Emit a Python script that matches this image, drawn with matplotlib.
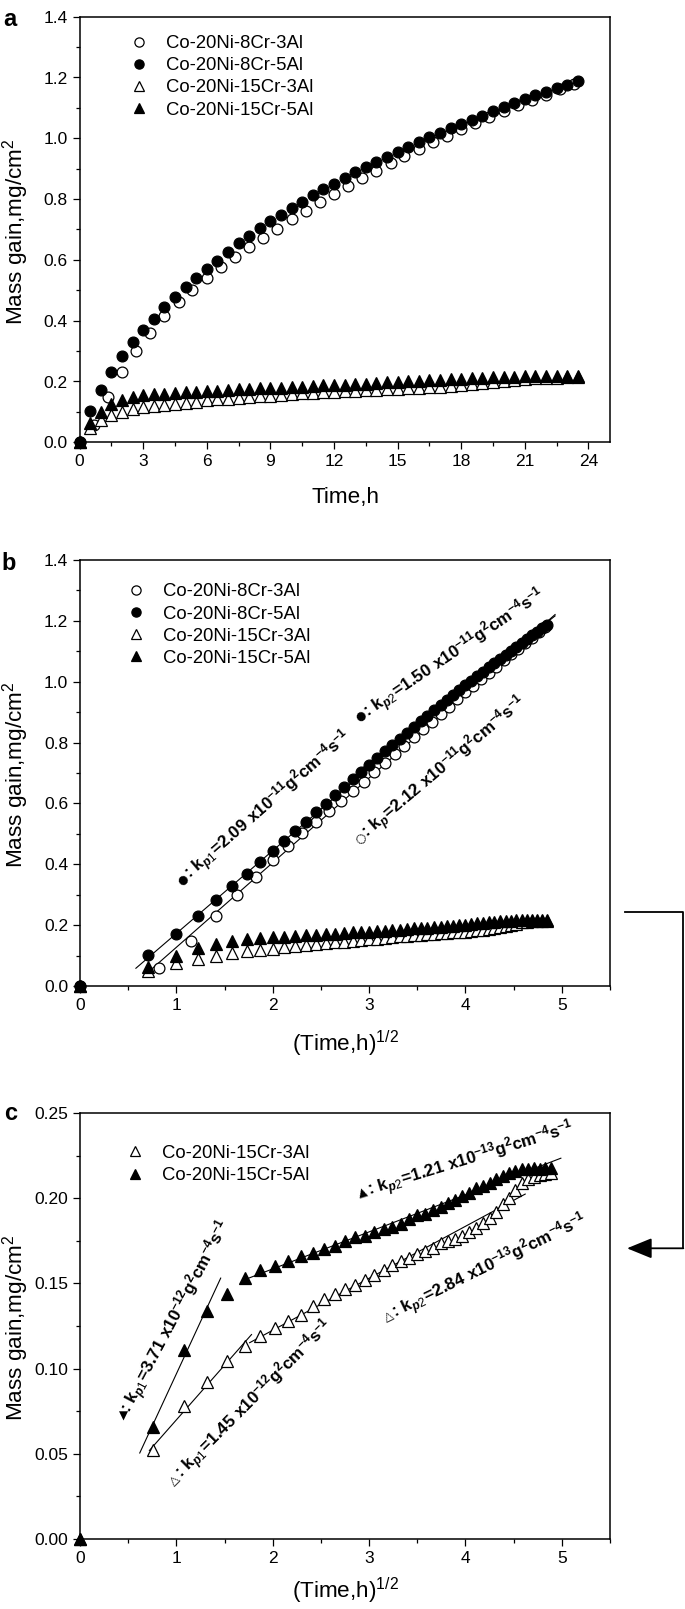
import numpy as np
import matplotlib
matplotlib.use("Agg")
import matplotlib.pyplot as plt
from matplotlib.lines import Line2D
from matplotlib.patches import FancyArrowPatch
from matplotlib.transforms import offset_copy
from matplotlib.ticker import MultipleLocator, FormatStrFormatter

plt.rcParams['font.family'] = ['Liberation Sans', 'DejaVu Sans']
plt.rcParams['mathtext.fontset'] = 'custom'
plt.rcParams['mathtext.rm'] = 'Liberation Sans'
plt.rcParams['mathtext.it'] = 'Liberation Sans:italic:bold'
plt.rcParams['mathtext.bf'] = 'Liberation Sans:bold'
plt.rcParams['mathtext.sf'] = 'Liberation Sans'

# ---------------- data ----------------
labels = ["Co-20Ni-8Cr-3Al", "Co-20Ni-8Cr-5Al", "Co-20Ni-15Cr-3Al", "Co-20Ni-15Cr-5Al"]

# time grid (h), 40-min sampling for Co-20Ni-8Cr-3Al
t_8cr3al = [0, 0.67, 1.33, 2.0, 2.67, 3.33, 4.0, 4.67, 5.33, 6.0, 6.67, 7.33, 8.0, 8.67,
            9.33, 10.0, 10.67, 11.33, 12.0, 12.67, 13.33, 14.0, 14.67, 15.33, 16.0, 16.67,
            17.33, 18.0, 18.67, 19.33, 20.0, 20.67, 21.33, 22.0, 22.67, 23.33]
m_8cr3al = [0, 0.058, 0.149, 0.230, 0.299, 0.359, 0.414, 0.460, 0.502, 0.540, 0.576, 0.609,
            0.642, 0.671, 0.703, 0.733, 0.762, 0.790, 0.817, 0.843, 0.869, 0.894, 0.918, 0.942,
            0.965, 0.987, 1.009, 1.030, 1.050, 1.070, 1.090, 1.108, 1.126, 1.144, 1.162, 1.180]

# time grid (h), 30-min sampling for the other alloys
t_30min = [0, 0.5, 1.0, 1.5, 2.0, 2.5, 3.0, 3.5, 4.0, 4.5, 5.0, 5.5, 6.0, 6.5, 7.0, 7.5, 8.0,
           8.5, 9.0, 9.5, 10.0, 10.5, 11.0, 11.5, 12.0, 12.5, 13.0, 13.5, 14.0, 14.5, 15.0,
           15.5, 16.0, 16.5, 17.0, 17.5, 18.0, 18.5, 19.0, 19.5, 20.0, 20.5, 21.0, 21.5, 22.0,
           22.5, 23.0, 23.5]
m_8cr5al = [0, 0.102, 0.171, 0.231, 0.283, 0.329, 0.368, 0.406, 0.444, 0.477, 0.510, 0.540,
            0.571, 0.598, 0.627, 0.655, 0.680, 0.704, 0.727, 0.749, 0.771, 0.792, 0.812, 0.832,
            0.851, 0.870, 0.888, 0.906, 0.923, 0.940, 0.956, 0.972, 0.988, 1.003, 1.018, 1.033,
            1.047, 1.061, 1.075, 1.089, 1.102, 1.115, 1.128, 1.141, 1.153, 1.165, 1.176, 1.187]
m_15cr3al = [0, 0.048, 0.074, 0.089, 0.100, 0.110, 0.115, 0.119, 0.123, 0.127, 0.130, 0.134,
             0.138, 0.141, 0.144, 0.146, 0.148, 0.151, 0.153, 0.156, 0.158, 0.161, 0.163, 0.164,
             0.166, 0.168, 0.170, 0.171, 0.173, 0.175, 0.176, 0.177, 0.179, 0.181, 0.183, 0.185,
             0.188, 0.191, 0.194, 0.198, 0.201, 0.205, 0.209, 0.211, 0.212, 0.213, 0.214, 0.215]
m_15cr5al = [0, 0.062, 0.100, 0.126, 0.139, 0.148, 0.154, 0.158, 0.160, 0.162, 0.165, 0.167,
             0.169, 0.170, 0.172, 0.174, 0.176, 0.178, 0.179, 0.180, 0.182, 0.183, 0.185, 0.187,
             0.189, 0.190, 0.192, 0.193, 0.195, 0.197, 0.198, 0.200, 0.202, 0.204, 0.206, 0.207,
             0.209, 0.210, 0.212, 0.214, 0.215, 0.216, 0.217, 0.217, 0.218, 0.218, 0.218, 0.218]

# panel c: 35-min sampling
t_c = [0, 0.58, 1.17, 1.75, 2.33, 2.92, 3.5, 4.08, 4.67, 5.25, 5.83, 6.42, 7.0, 7.58, 8.17,
       8.75, 9.33, 9.92, 10.5, 11.08, 11.67, 12.25, 12.83, 13.42, 14.0, 14.58, 15.17, 15.75,
       16.33, 16.92, 17.5, 18.08, 18.67, 19.25, 19.83, 20.42, 21.0, 21.58, 22.17, 22.75,
       23.33, 23.92]
c_15cr3al = [0, 0.052, 0.078, 0.092, 0.1045, 0.113, 0.119, 0.124, 0.128, 0.1315, 0.137, 0.141,
             0.144, 0.147, 0.149, 0.152, 0.155, 0.158, 0.161, 0.163, 0.165, 0.167, 0.169, 0.171,
             0.1735, 0.1748, 0.176, 0.178, 0.180, 0.1825, 0.1855, 0.1885, 0.192, 0.1965, 0.200,
             0.205, 0.209, 0.2115, 0.2125, 0.2135, 0.214, 0.215]
c_15cr5al = [0, 0.066, 0.111, 0.134, 0.144, 0.153, 0.158, 0.160, 0.163, 0.166, 0.168, 0.170,
             0.172, 0.175, 0.177, 0.178, 0.180, 0.182, 0.183, 0.185, 0.188, 0.190, 0.191, 0.193,
             0.195, 0.197, 0.199, 0.201, 0.203, 0.206, 0.207, 0.209, 0.211, 0.213, 0.215, 0.216,
             0.217, 0.217, 0.218, 0.217, 0.218, 0.218]

# --------------- styling ---------------
W, H = 685, 1609
fig = plt.figure(figsize=(W / 100, H / 100), dpi=100)

def px_rect(l, t, r, b):
    return [l / W, 1 - b / H, (r - l) / W, (b - t) / H]

TICK_FS = 12.5
LAB_FS = 16.2
LEG_FS = 13.3
ANN_FS = 12.3
SYM_FS = 8.5
MS_C = 7.8
MS_T = 8.6

def style(ax, xmaj, xmin, ymaj, ymin, yfmt):
    ax.xaxis.set_major_locator(MultipleLocator(xmaj))
    ax.xaxis.set_minor_locator(MultipleLocator(xmin))
    ax.yaxis.set_major_locator(MultipleLocator(ymaj))
    ax.yaxis.set_minor_locator(MultipleLocator(ymin))
    ax.yaxis.set_major_formatter(FormatStrFormatter(yfmt))
    ax.tick_params(which='both', direction='out', top=False, right=False, width=0.9,
                   labelsize=TICK_FS)
    ax.tick_params(which='major', length=5, pad=3.5)
    ax.tick_params(which='minor', length=2.8)
    for s in ax.spines.values():
        s.set_linewidth(1.1)

open_c = dict(marker='o', ls='none', mfc='white', mec='black', mew=0.9, ms=MS_C, clip_on=False)
fill_c = dict(marker='o', ls='none', mfc='black', mec='black', mew=0.9, ms=MS_C, clip_on=False)
open_t = dict(marker='^', ls='none', mfc='white', mec='black', mew=0.9, ms=MS_T, clip_on=False)
fill_t = dict(marker='^', ls='none', mfc='black', mec='black', mew=0.9, ms=MS_T, clip_on=False)

def legend(ax, x, y):
    ax.legend(loc='upper left', bbox_to_anchor=(x, y), frameon=False, fontsize=LEG_FS,
              handlelength=1.0, handletextpad=0.95, labelspacing=0.28, borderpad=0,
              borderaxespad=0, markerscale=0.85)

def fit_line(ax, x, y, sel, x0, x1):
    x = np.asarray(x); y = np.asarray(y)
    p = np.polyfit(x[sel], y[sel], 1)
    xs = np.array([x0, x1])
    ax.plot(xs, np.polyval(p, xs), color='black', lw=0.8, zorder=1)

def kp(sub, val, exp):
    return (": $\\mathbf{k_{\\mathit{" + sub + "}}\\!=\\!" + val +
            "\\ x10^{" + exp + "}g^{2}cm^{-4}s^{-1}}$")

def annot(ax, x, y, sym, text, rot, sym_rot=None, gap=4.0):
    if sym_rot is None:
        sym_rot = rot
    ax.text(x, y, sym, fontsize=SYM_FS, family='DejaVu Sans', rotation=sym_rot,
            rotation_mode='anchor', ha='center', va='center')
    a = np.deg2rad(rot)
    tr = offset_copy(ax.transData, fig=fig, x=gap * np.cos(a), y=gap * np.sin(a), units='points')
    ax.text(x, y, text, transform=tr, fontsize=ANN_FS, fontweight='bold', rotation=rot,
            rotation_mode='anchor', ha='left', va='center')

# ---------------- panel a ----------------
axa = fig.add_axes(px_rect(79.5, 16.7, 609.5, 442.3))
axa.plot(t_8cr3al, m_8cr3al, label=labels[0], **open_c)
axa.plot(t_30min, m_8cr5al, label=labels[1], **fill_c)
axa.plot(t_30min, m_15cr3al, label=labels[2], **open_t)
axa.plot(t_30min, m_15cr5al, label=labels[3], **fill_t)
axa.set_xlim(0, 25)
axa.set_ylim(0, 1.4)
style(axa, 3, 1.5, 0.2, 0.1, '%.1f')
legend(axa, 0.095, 0.957)

# ---------------- panel b ----------------
axb = fig.add_axes(px_rect(80, 560, 610, 986))
xb_8cr3al = np.sqrt(t_8cr3al)
xb_30 = np.sqrt(t_30min)
axb.plot(xb_8cr3al, m_8cr3al, label=labels[0], **open_c)
axb.plot(xb_30, m_8cr5al, label=labels[1], **fill_c)
axb.plot(xb_30, m_15cr3al, label=labels[2], **open_t)
axb.plot(xb_30, m_15cr5al, label=labels[3], **fill_t)
fit_line(axb, xb_30, m_8cr5al, (xb_30 > 0) & (xb_30 <= 2.6), 0.58, 3.0)
fit_line(axb, xb_30, m_8cr5al, xb_30 >= 2.9, 2.9, 4.93)
fit_line(axb, xb_8cr3al, m_8cr3al, xb_8cr3al > 0, 0.75, 4.93)
axb.set_xlim(0, 5.5)
axb.set_ylim(0, 1.4)
style(axb, 1, 0.5, 0.2, 0.1, '%.1f')
legend(axb, 0.088, 0.945)

annot(axb, 1.07, 0.348, "●", kp("p1", "2.09", "-11"), 41)
annot(axb, 2.92, 0.885, "●", kp("p2", "1.50", "-11"), 34)
annot(axb, 2.91, 0.485, "○", kp("p", "2.12", "-11"), 40)

# ---------------- panel c ----------------
axc = fig.add_axes(px_rect(80, 1113, 610, 1539))
xc = np.sqrt(t_c)
axc.plot(xc, c_15cr3al, label=labels[2], **open_t)
axc.plot(xc, c_15cr5al, label=labels[3], **fill_t)
idx = np.arange(len(xc))
fit_line(axc, xc, c_15cr5al, (idx >= 1) & (idx <= 3), 0.62, 1.46)
fit_line(axc, xc, c_15cr5al, idx >= 5, 1.71, 4.99)
fit_line(axc, xc, c_15cr3al, (idx >= 1) & (idx <= 5), 0.72, 1.78)
fit_line(axc, xc, c_15cr3al, (idx >= 6) & (idx <= 37), 1.76, 4.62)
axc.set_xlim(0, 5.5)
axc.set_ylim(0, 0.25)
style(axc, 1, 0.5, 0.05, 0.025, '%.2f')
legend(axc, 0.086, 0.925)

annot(axc, 2.93, 0.203, "▲", kp("p2", "1.21", "-13"), 17)
annot(axc, 3.20, 0.1305, "△", kp("p2", "2.84", "-13"), 26)
annot(axc, 0.45, 0.072, "▼", kp("p1", "3.71", "-12"), 62, sym_rot=0)
annot(axc, 0.985, 0.0346, "△", kp("p1", "1.45", "-12"), 45)

# ---------------- labels ----------------
ylab = "Mass gain,mg/cm$^2$"
for yc in (232, 775, 1328):
    fig.text(15.5 / W, 1 - yc / H, ylab, rotation=90, ha='center', va='center', fontsize=LAB_FS)
fig.text(345 / W, 1 - 497 / H, "Time,h", ha='center', va='center', fontsize=LAB_FS)
fig.text(345 / W, 1 - 1044 / H, "(Time,h)$^{1/2}$", ha='center', va='center', fontsize=LAB_FS)
fig.text(345 / W, 1 - 1591 / H, "(Time,h)$^{1/2}$", ha='center', va='center', fontsize=LAB_FS)

for lab, (xp, yp) in zip("abc", [(10, 20), (9, 563), (11, 1113)]):
    fig.text(xp / W, 1 - yp / H, lab, ha='center', va='center', fontsize=17, fontweight='bold')

# ---------------- connector arrow ----------------
def fpt(x, y):
    return (x / W, 1 - y / H)

fig.add_artist(Line2D([625 / W, 682.7 / W, 682.7 / W],
                      [1 - 911.7 / H, 1 - 911.7 / H, 1 - 1248.3 / H],
                      transform=fig.transFigure, color='black', lw=1.3))
fig.add_artist(FancyArrowPatch(fpt(683.3, 1248.3), fpt(627, 1248.3), transform=fig.transFigure,
                               arrowstyle='-|>,head_length=1.1,head_width=0.45',
                               mutation_scale=14, color='black', lw=1.3, shrinkA=0, shrinkB=0))

fig.savefig("out.png", dpi=100)
